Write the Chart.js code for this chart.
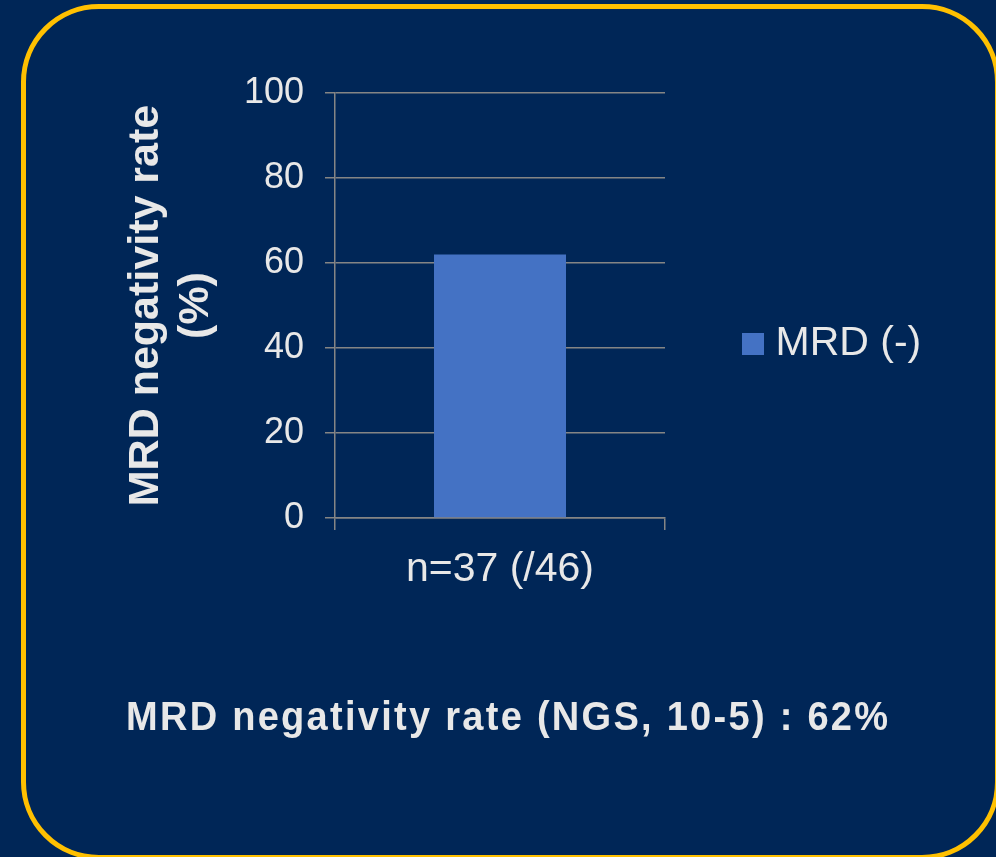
<!DOCTYPE html>
<html>
<head>
<meta charset="utf-8">
<script src="https://cdn.jsdelivr.net/npm/chart.js@4/dist/chart.umd.min.js"></script>
<style>
  html, body { margin: 0; padding: 0; width: 996px; height: 857px; overflow: hidden; background: #002657; }
  #wrap { position: absolute; left: 0; top: 0; width: 996px; height: 857px; }
  #frame {
    position: absolute; left: 21px; top: 4px; width: 979px; height: 856px;
    box-sizing: border-box; border: 5px solid #FFC000; border-radius: 78px;
    pointer-events: none;
  }
  #summary {
    position: absolute; left: 126px; top: 696px; white-space: nowrap;
    font: bold 40px/40px "Liberation Sans", Arial, sans-serif; color: #E8E8E8;
    letter-spacing: 2.4px; transform: scaleX(0.95); transform-origin: left top;
  }
</style>
</head>
<body>
<div id="wrap"><canvas id="chart"></canvas></div>
<div id="frame"></div>
<div id="summary"></div>
<script>
// Chart data
const categories = ['n=37 (/46)'];
const seriesName = 'MRD (-)';
const mrdNegativeRate = [62];
const yTickValues = [0, 20, 40, 60, 80, 100];
const yTitleLines = ['MRD negativity rate', '(%)'];
const summaryText = 'MRD negativity rate (NGS, 10-5) : 62%';

// Styling
const textColor = '#E8E8E8';
const gridColor = '#858585';
const barColor = '#4472C4';
const fontFamily = '"Liberation Sans", Arial, sans-serif';

document.getElementById('summary').textContent = summaryText;

// Square legend swatch
const swatch = document.createElement('canvas');
swatch.width = 22; swatch.height = 22;
const sctx = swatch.getContext('2d');
sctx.fillStyle = barColor;
sctx.fillRect(0, 0, 22, 22);

new Chart(document.getElementById('chart'), {
  type: 'bar',
  data: {
    labels: categories,
    datasets: [{
      label: seriesName,
      data: mrdNegativeRate,
      backgroundColor: barColor,
      borderWidth: 0,
      barPercentage: 0.4,
      categoryPercentage: 1
    }]
  },
  options: {
    responsive: true,
    maintainAspectRatio: false,
    animation: false,
    layout: { padding: { left: 121, right: 65, top: 93, bottom: 263 } },
    plugins: {
      tooltip: { enabled: false },
      legend: {
        position: 'right',
        maxWidth: 266,
        labels: {
          usePointStyle: true,
          pointStyle: swatch,
          pointStyleWidth: 4,
          padding: 86,
          color: textColor,
          font: { family: fontFamily, size: 41 }
        }
      }
    },
    scales: {
      x: {
        afterFit: s => { s.height = 76; },
        grid: { display: true, drawOnChartArea: false, drawTicks: true, tickLength: 12, color: gridColor, lineWidth: 1.5, offset: true },
        border: { display: true, color: gridColor, width: 1.5 },
        ticks: { color: textColor, padding: 15, font: { family: fontFamily, size: 41 } }
      },
      y: {
        min: 0, max: 100,
        afterFit: s => { s.width = 214; },
        afterBuildTicks: s => { s.ticks = yTickValues.map(v => ({ value: v })); },
        grid: { color: gridColor, lineWidth: 1.5, tickLength: 10 },
        border: { display: true, color: gridColor, width: 1.5 },
        ticks: { color: textColor, padding: 21, font: { family: fontFamily, size: 36 } },
        title: {
          display: true,
          text: yTitleLines,
          color: textColor,
          padding: 0,
          font: { family: fontFamily, size: 43, weight: 'bold', lineHeight: 1.16 }
        }
      }
    }
  }
});
</script>
</body>
</html>
